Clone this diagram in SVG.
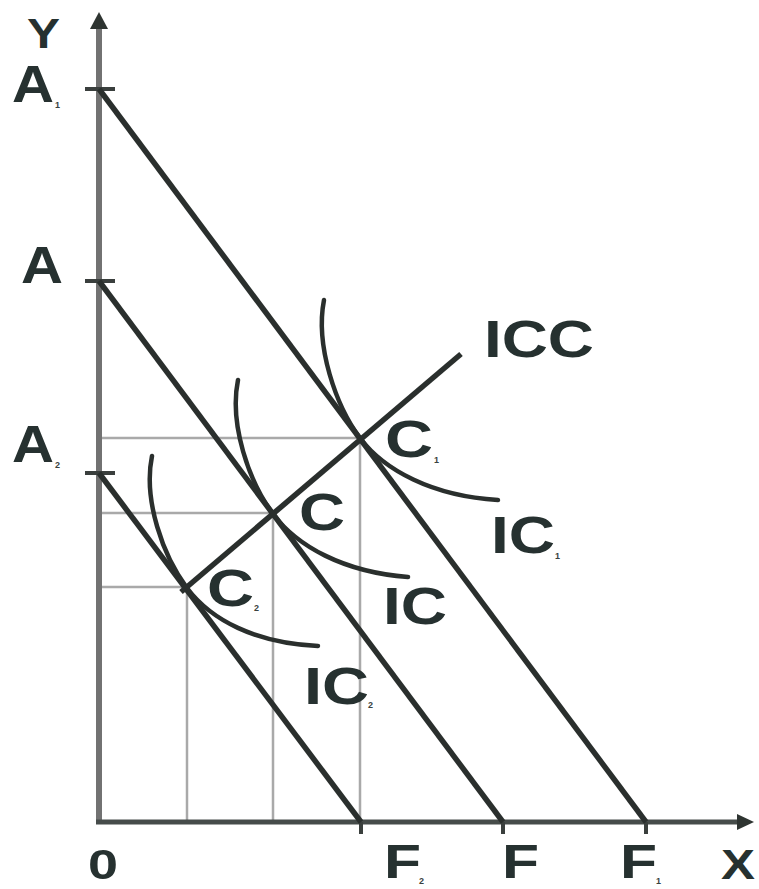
<svg xmlns="http://www.w3.org/2000/svg" width="759" height="889" viewBox="0 0 759 889">
<style>
.lbl{font-family:"Liberation Sans",Arial,sans-serif;font-weight:bold;font-size:51px;fill:#263130}
.ax{font-size:43px}
.bt{font-size:49px}
.sub{font-family:"Liberation Sans",Arial,sans-serif;font-weight:bold;font-size:9px;fill:#3a4240}
.budget{stroke:#2a2f2d;stroke-width:5.5;fill:none;stroke-linecap:butt}
.ic{stroke:#2a2f2d;stroke-width:4.5;fill:none;stroke-linecap:round}
.guide{stroke:#a9a9a9;stroke-width:2.5;fill:none}
.tick{stroke:#3a3f3d;stroke-width:4}
</style>
<rect width="759" height="889" fill="#ffffff"/>
<g id="guides">
<line class="guide" x1="99" y1="438" x2="360" y2="438"/>
<line class="guide" x1="99" y1="513" x2="273" y2="513"/>
<line class="guide" x1="99" y1="587" x2="187" y2="587"/>
<line class="guide" x1="360" y1="438" x2="360" y2="822"/>
<line class="guide" x1="273" y1="513" x2="273" y2="822"/>
<line class="guide" x1="187" y1="587" x2="187" y2="822"/>
</g>
<g id="axes">
<line x1="99" y1="26" x2="99" y2="824" stroke="#727272" stroke-width="6"/>
<polygon points="99,12 90,29 108,29" fill="#2e3431"/>
<line x1="96" y1="822" x2="740" y2="822" stroke="#464c4a" stroke-width="5"/>
<polygon points="754,822 737,814 737,830" fill="#2e3431"/>
<line class="tick" x1="85" y1="89" x2="115" y2="89"/>
<line class="tick" x1="85" y1="281" x2="115" y2="281"/>
<line class="tick" x1="85" y1="473" x2="115" y2="473"/>
<line class="tick" x1="361" y1="822" x2="361" y2="834"/>
<line class="tick" x1="503" y1="822" x2="503" y2="834"/>
<line class="tick" x1="646" y1="822" x2="646" y2="834"/>
</g>
<g id="budget-lines">
<line class="budget" x1="99" y1="89" x2="646" y2="822"/>
<line class="budget" x1="99" y1="281" x2="503" y2="822"/>
<line class="budget" x1="99" y1="473" x2="361" y2="822"/>
</g>
<g id="icc">
<line class="budget" x1="181" y1="592" x2="461" y2="354"/>
</g>
<g id="indifference-curves">
<path class="ic" transform="translate(360,438)" d="M-36,-138 C-45,-92 -24,-32 0,0 C24,32 72,58 138,62"/>
<path class="ic" transform="translate(273,514)" d="M-35,-134 C-44,-90 -24,-32 0,0 C24,32 70,58 135,63"/>
<path class="ic" transform="translate(187,588)" d="M-35,-132 C-44,-88 -24,-32 0,0 C24,32 68,55 131,58"/>
</g>
<g id="labels">
<text class="lbl ax" x="27" y="48" textLength="33" lengthAdjust="spacingAndGlyphs">Y</text>
<text class="lbl" x="12" y="102" textLength="42" lengthAdjust="spacingAndGlyphs">A</text>
<text class="sub" x="55" y="108">1</text>
<text class="lbl" x="21" y="283" textLength="42" lengthAdjust="spacingAndGlyphs">A</text>
<text class="lbl" x="12" y="462" textLength="42" lengthAdjust="spacingAndGlyphs">A</text>
<text class="sub" x="55" y="468">2</text>
<text class="lbl" x="484" y="357" textLength="110" lengthAdjust="spacingAndGlyphs">ICC</text>
<text class="lbl" x="385" y="457" textLength="48" lengthAdjust="spacingAndGlyphs">C</text>
<text class="sub" x="434" y="463">1</text>
<text class="lbl" x="299" y="530" textLength="46" lengthAdjust="spacingAndGlyphs">C</text>
<text class="lbl" x="207" y="606" textLength="47" lengthAdjust="spacingAndGlyphs">C</text>
<text class="sub" x="254" y="611">2</text>
<text class="lbl" x="491" y="553" textLength="64" lengthAdjust="spacingAndGlyphs">IC</text>
<text class="sub" x="555" y="559">1</text>
<text class="lbl" x="383" y="624" textLength="64" lengthAdjust="spacingAndGlyphs">IC</text>
<text class="lbl" x="304" y="704" textLength="65" lengthAdjust="spacingAndGlyphs">IC</text>
<text class="sub" x="368" y="708">2</text>
<text class="lbl ax" x="88" y="879" textLength="30" lengthAdjust="spacingAndGlyphs">0</text>
<text class="lbl bt" x="384" y="878" textLength="37" lengthAdjust="spacingAndGlyphs">F</text>
<text class="sub" x="419" y="884">2</text>
<text class="lbl bt" x="502" y="878" textLength="37" lengthAdjust="spacingAndGlyphs">F</text>
<text class="lbl bt" x="620" y="878" textLength="37" lengthAdjust="spacingAndGlyphs">F</text>
<text class="sub" x="656" y="884">1</text>
<text class="lbl ax" x="721" y="879" textLength="34" lengthAdjust="spacingAndGlyphs">X</text>
</g>
</svg>
